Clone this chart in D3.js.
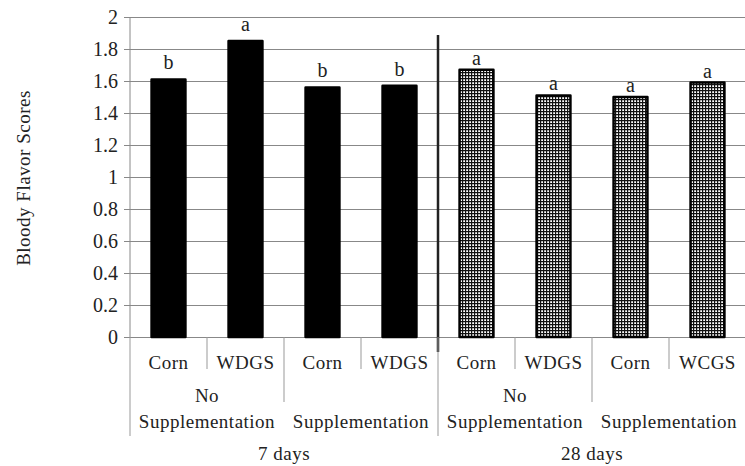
<!DOCTYPE html>
<html>
<head>
<meta charset="utf-8">
<script src="https://cdn.jsdelivr.net/npm/d3@7"></script>
<style>
  body { margin: 0; background: #fff; }
  svg { display: block; }
  text { font-family: "Liberation Serif", "Times New Roman", serif; fill: #222; }
</style>
</head>
<body>
<svg id="chart" width="745" height="466"></svg>
<script>
// data
var categories = ["Corn", "WDGS", "Corn", "WDGS", "Corn", "WDGS", "Corn", "WCGS"];
var supplements = ["No Supplementation", "Supplementation", "No Supplementation", "Supplementation"];
var periods = ["7 days", "28 days"];
var scores = [1.61, 1.85, 1.56, 1.57, 1.67, 1.51, 1.50, 1.59];
var letters = ["b", "a", "b", "b", "a", "a", "a", "a"];
var yTicks = [0, 0.2, 0.4, 0.6, 0.8, 1, 1.2, 1.4, 1.6, 1.8, 2];

var svg = d3.select("#chart");
var plotL = 130, plotR = 746, plotT = 17, plotB = 337;

var x = d3.scaleBand()
  .domain(d3.range(categories.length))
  .range([plotL, plotR])
  .paddingInner(0.56)
  .paddingOuter(0.28);
var step = x.step();

var y = d3.scaleLinear().domain([0, 2]).range([plotB, plotT]);

// crosshatch pattern for the 28 day bars
var pat = svg.append("defs").append("pattern")
  .attr("id", "grid")
  .attr("patternUnits", "userSpaceOnUse")
  .attr("width", 3)
  .attr("height", 3);
pat.append("rect").attr("width", 3).attr("height", 3).attr("fill", "#fff");
pat.append("path").attr("d", "M0,0.6H3M0.6,0V3").attr("stroke", "#111").attr("stroke-width", 1.2);

// gridlines + y axis
svg.append("g")
  .attr("transform", "translate(" + plotL + ",0)")
  .call(d3.axisLeft(y).tickValues(yTicks).tickSize(-(plotR - plotL)).tickSizeOuter(0)
    .tickFormat(function(d){ return d3.format("")(d) }))
  .call(function(g){
    g.select(".domain").remove();
    g.selectAll(".tick line").attr("stroke", "#888").attr("x1", -6);
    g.selectAll(".tick text").attr("x", -12).attr("dy", "0.34em")
      .style("font-size", "20px").attr("fill", "#222");
  })
  .attr("font-family", null).attr("font-size", null);
svg.append("line")
  .attr("x1", plotL).attr("x2", plotL)
  .attr("y1", plotT).attr("y2", plotB)
  .attr("stroke", "#888");

// bars
svg.selectAll("rect.bar")
  .data(scores)
  .enter().append("rect")
    .attr("class", "bar")
    .attr("x", function(d, i){ return x(i) })
    .attr("width", x.bandwidth())
    .attr("y", function(d){ return y(d) })
    .attr("height", function(d){ return y(0) - y(d) })
    .attr("fill", function(d, i){ return i < 4 ? "#000" : "url(#grid)" })
    .attr("stroke", "#000")
    .attr("stroke-width", 2.5)
    .attr("stroke-linejoin", "round");

// significance letters
svg.selectAll("text.sig")
  .data(scores)
  .enter().append("text")
    .attr("class", "sig")
    .attr("x", function(d, i){ return x(i) + x.bandwidth() / 2 })
    .attr("y", function(d, i){ return y(d) - (i < 4 ? 10 : 5) })
    .attr("text-anchor", "middle")
    .style("font-size", "20px")
    .text(function(d, i){ return letters[i] });

// separator between 7 and 28 days
svg.append("line")
  .attr("x1", plotL + 4 * step).attr("x2", plotL + 4 * step)
  .attr("y1", 35).attr("y2", 352)
  .attr("stroke", "#222").attr("stroke-width", 2.5);

// category axis
var sepLen = function(i){
  if (i % 4 == 0) return 99;
  if (i % 2 == 0) return 65;
  return 32;
};
svg.selectAll("line.sep")
  .data(d3.range(categories.length + 1))
  .enter().append("line")
    .attr("class", "sep")
    .attr("x1", function(i){ return plotL + i * step })
    .attr("x2", function(i){ return plotL + i * step })
    .attr("y1", plotB)
    .attr("y2", function(i){ return plotB + sepLen(i) })
    .attr("stroke", "#999");

svg.selectAll("text.cat")
  .data(categories)
  .enter().append("text")
    .attr("class", "cat")
    .attr("x", function(d, i){ return x(i) + x.bandwidth() / 2 })
    .attr("y", 369)
    .attr("text-anchor", "middle")
    .style("font-size", "19px")
    .style("letter-spacing", "0.5px")
    .text(function(d){ return d });

supplements.forEach(function(s, i){
  var cx = plotL + (i * 2 + 1) * step;
  var words = s.split(" ");
  var t = svg.append("text")
    .attr("text-anchor", "middle")
    .style("font-size", "19px")
    .style("letter-spacing", "0.5px");
  if (words.length > 1) {
    t.append("tspan").attr("x", cx).attr("y", 402).text(words[0]);
  }
  t.append("tspan").attr("x", cx).attr("y", 428).text(words[words.length - 1]);
});

periods.forEach(function(p, i){
  svg.append("text")
    .attr("x", plotL + (i * 4 + 2) * step)
    .attr("y", 460)
    .attr("text-anchor", "middle")
    .style("font-size", "19px")
    .style("letter-spacing", "0.5px")
    .text(p);
});

// y title
svg.append("text")
  .attr("transform", "translate(30," + 178 + ") rotate(-90)")
  .attr("text-anchor", "middle")
  .style("font-size", "19px")
  .style("letter-spacing", "0.5px")
  .text("Bloody Flavor Scores");
</script>
</body>
</html>
